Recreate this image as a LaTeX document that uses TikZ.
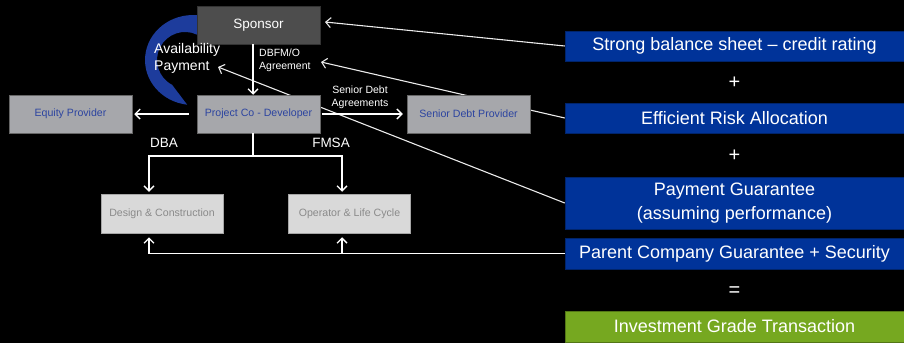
\documentclass[tikz,border=0pt]{standalone}
\usepackage{fontspec}
\setmainfont{Liberation Sans}
\usetikzlibrary{arrows.meta}
\pgfdeclarelayer{canvas}
\pgfdeclarelayer{back}
\pgfsetlayers{canvas,back,main}
\definecolor{sponsorgray}{HTML}{4D4D4D}
\definecolor{midgray}{HTML}{A6A7AB}
\definecolor{palegray}{HTML}{D9D9D9}
\definecolor{boxtext}{HTML}{2C44A0}
\definecolor{paletext}{HTML}{8A8A8A}
\definecolor{dealblue}{HTML}{003399}
\definecolor{arcblue}{HTML}{1D3C9C}
\definecolor{dealgreen}{HTML}{76A820}
\begin{document}
\begin{tikzpicture}[x=1pt,y=-1pt,
  partybox/.style={inner sep=0pt,minimum width=123pt,minimum height=38pt,
    font=\fontsize{10.6}{12}\selectfont},
  sponsorbox/.style={partybox,fill=sponsorgray,draw=black!80!white,line width=0.5pt,
    text=white,font=\fontsize{13.5}{15}\selectfont},
  midbox/.style={partybox,fill=midgray,draw=gray!80!black,line width=0.5pt,text=boxtext},
  palebox/.style={partybox,fill=palegray,draw=gray!70!white,line width=0.5pt,
    text=paletext,minimum width=122pt,minimum height=39pt},
  dealbox/.style={inner sep=0pt,minimum width=339pt,fill=dealblue,
    draw=dealblue!70!black,line width=0.5pt,text=white,align=center,
    font=\fontsize{18}{24}\selectfont},
  opsign/.style={text=white,font=\fontsize{20}{22}\selectfont,inner sep=0pt},
  conn/.style={draw=white,line width=1.3pt,-{Straight Barb[length=5pt,width=10pt]}},
  tie/.style={draw=white!92!black,line width=1.1pt,-{Straight Barb[length=5pt,width=10pt]}},
  smalllabel/.style={text=white,inner sep=0pt,font=\fontsize{10.5}{13}\selectfont},
  biglabel/.style={text=white,inner sep=0pt,font=\fontsize{13.5}{16}\selectfont}
]
% canvas
\begin{pgfonlayer}{canvas}
  \fill[black] (0,0) rectangle (904,343);
\end{pgfonlayer}
\path[use as bounding box] (0,0) rectangle (904,343);

% curved availability-payment band (outer ellipse, inner circle)
\fill[arcblue] (197.2,15.2) arc[start angle=275,end angle=97,x radius=48,y radius=45]
  -- (172.1,84.8) arc[start angle=117.5,end angle=295,radius=28] -- cycle;

% contract parties
\node[sponsorbox] (sponsor) at (258.5,25) {Sponsor};
\node[midbox] (proj) at (258.5,114) {Project Co - Developer};
\node[midbox] (equity) at (70.5,114) {Equity Provider};
\node[midbox] (senior) at (468.5,114) {Senior Debt Provider};
\node[palebox] (design) at (162,213.5) {Design \& Construction};
\node[palebox] (operator) at (349.5,213.5) {Operator \& Life Cycle};

% rating building blocks
\node[dealbox,minimum height=30pt] (sbs) at (734.5,46) {Strong balance sheet -- credit rating};
\node[opsign] (plusa) at (734.5,83) {+};
\node[dealbox,minimum height=30pt] (era) at (734.5,118) {Efficient Risk Allocation};
\node[opsign] (plusb) at (734.5,156) {+};
\node[dealbox,minimum height=52pt] (pg) at (734.5,203) {Payment Guarantee\\(assuming performance)};
\node[dealbox,minimum height=31pt] (pcg) at (734.5,253.5) {Parent Company Guarantee + Security};
\node[opsign] (equals) at (734.5,292) {=};
\node[dealbox,minimum height=31pt,fill=dealgreen,draw=dealgreen!70!black] (igt) at (734.5,326.5) {Investment Grade Transaction};

% labels
\node[biglabel,font=\fontsize{14}{17}\selectfont,align=left,anchor=west] (avail) at (154,58.5) {Availability\\Payment};
\node[smalllabel,align=left,anchor=west] (dbfm) at (259,60.5) {DBFM/O\\Agreement};
\node[smalllabel,align=center] (sdagr) at (360,97.5) {Senior Debt\\Agreements};
\node[biglabel] (dba) at (164,143) {DBA};
\node[biglabel] (fmsa) at (331,143) {FMSA};

% free ends of the rating ties
\coordinate (tipS) at (325,22);
\coordinate (tipA) at (321,62);
\coordinate (tipP) at (218,67);

% ties from the rating blocks, running behind the party boxes
\begin{pgfonlayer}{back}
  \draw[tie] (sbs.west) -- (tipS);
  \draw[tie] (era.west) -- (tipA);
  \draw[tie] (pg.west) -- (tipP);
\end{pgfonlayer}

% contract flows
\draw[conn] ([xshift=-5.5pt]sponsor.south) -- ([xshift=-5.5pt]proj.north);
\draw[conn,shorten <=8pt,shorten >=2pt] (proj.west) -- (equity.east);
\draw[conn,shorten <=2pt,shorten >=4pt] (proj.east) -- (senior.west);

% DBA / FMSA split
\coordinate (split) at ([xshift=-5.5pt]proj.south |- 0,156);
\draw[white,line width=1.3pt] ([xshift=-5.5pt]proj.south) -- (split);
\draw[conn,shorten >=2pt] (split) -| ([xshift=-13pt]design.north);
\draw[conn,shorten >=2pt] (split) -| ([xshift=-7.5pt]operator.north);

% guarantee and security back to the subcontractors
\coordinate (secjoin) at ([xshift=-13pt]design.south |- pcg.west);
\draw[white,line width=1.3pt] (pcg.west) -- (secjoin);
\draw[conn,shorten >=4pt] (secjoin) -- ([xshift=-13pt]design.south);
\draw[conn,shorten >=4pt] ([xshift=-7.5pt]operator.south |- pcg.west) -- ([xshift=-7.5pt]operator.south);
\end{tikzpicture}
\end{document}
